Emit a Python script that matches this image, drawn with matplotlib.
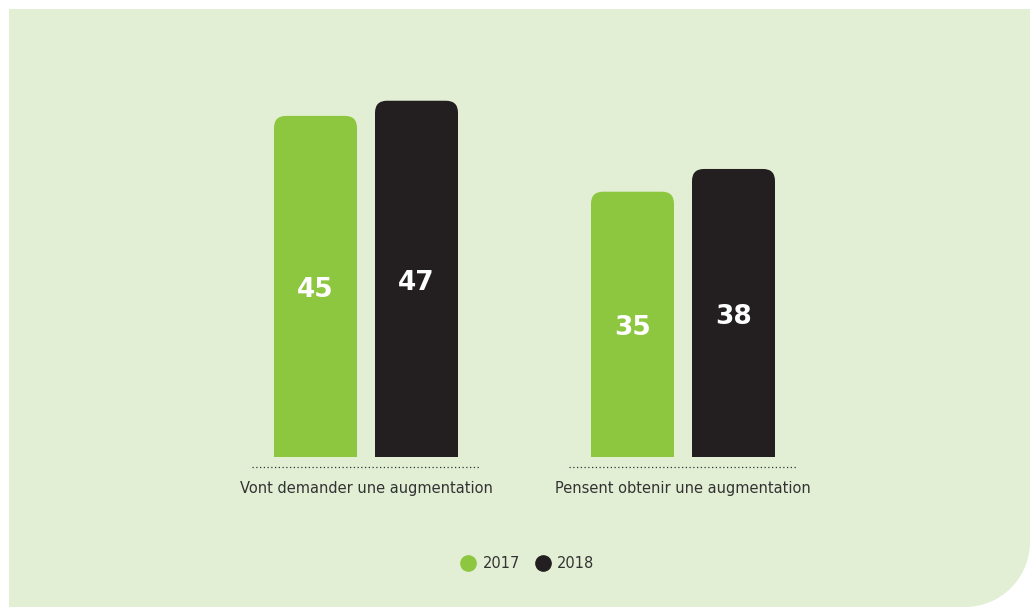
import numpy as np
import matplotlib
matplotlib.use('Agg')
import matplotlib.pyplot as plt
from matplotlib.patches import FancyBboxPatch, Rectangle, PathPatch
from matplotlib.path import Path
from matplotlib.lines import Line2D

# donnees
categories = ['Vont demander une augmentation', 'Pensent obtenir une augmentation']
annees = ['2017', '2018']
v2017 = [45, 35]
v2018 = [47, 38]

vert = '#8dc63f'
noir = '#231f20'
fond = '#e2efd5'
gris = '#333333'

W, H = 1030, 607
fig = plt.figure(figsize=(W/100, H/100), dpi=100)
fig.patch.set_facecolor('white')

# panneau de fond (coin bas droit arrondi)
bg = fig.add_axes([0, 0, 1, 1])
bg.set_xlim(0, W)
bg.set_ylim(H, 0)
bg.axis('off')
r = 65
k = 0.5523
verts = [(9, 9), (W, 9), (W, H - r),
         (W, H - r + k*r), (W - r + k*r, H), (W - r, H),
         (9, H), (9, 9)]
codes = [Path.MOVETO, Path.LINETO, Path.LINETO,
         Path.CURVE4, Path.CURVE4, Path.CURVE4,
         Path.LINETO, Path.CLOSEPOLY]
bg.add_patch(PathPatch(Path(verts, codes), facecolor=fond, edgecolor='none'))

# axes des barres : base a y=457px, 7.58 px par unite
base = 457
ppu = 7.58
ymax = 60
ax = fig.add_axes([0, (H - base)/H, 1, ymax*ppu/H])
ax.patch.set_alpha(0)
ax.axis('off')
ecart = 317.0
c0 = 366.0
ax.set_xlim(-c0/ecart, (W - c0)/ecart)
ax.set_ylim(0, ymax)

x = np.arange(len(categories))
larg = 83/ecart
dec = 50.5/ecart
rx = 12/ecart
aspect = ecart/ppu

for serie, col, d in [(v2017, vert, -dec), (v2018, noir, dec)]:
    bars = ax.bar(x + d, serie, larg, color=col)
    for b, v in zip(bars, serie):
        b.set_visible(False)
        x0, w, h = b.get_x(), b.get_width(), b.get_height()
        ax.add_patch(FancyBboxPatch((x0, 0), w, h,
                                    boxstyle='round,pad=0,rounding_size=%f' % rx,
                                    mutation_aspect=aspect, facecolor=col, edgecolor='none'))
        ax.add_patch(Rectangle((x0, 0), w, h/2, facecolor=col, edgecolor='none'))
        ax.text(x0 + w/2, h/2 - 4/ppu, str(v), color='white', fontsize=19, fontweight='bold',
                ha='center', va='center')

# lignes pointillees et libelles
demi = 114/ecart
for i, cat in enumerate(categories):
    ax.plot([i - demi, i + demi], [-10/ppu, -10/ppu], linestyle=(0, (1, 2)),
            color=gris, lw=0.9, clip_on=False)
    ax.text(i, -32/ppu, cat, ha='center', va='center', fontsize=10.5, color=gris)

# legende
handles = [Line2D([], [], marker='o', linestyle='none', markersize=11, color=vert),
           Line2D([], [], marker='o', linestyle='none', markersize=11, color=noir)]
fig.legend(handles, annees, loc='center', bbox_to_anchor=(524/W, 1 - 564/H),
           ncol=2, frameon=False, fontsize=10.5, handletextpad=0.0, columnspacing=0.55,
           labelcolor=gris)

fig.savefig('out.png', dpi=100)
